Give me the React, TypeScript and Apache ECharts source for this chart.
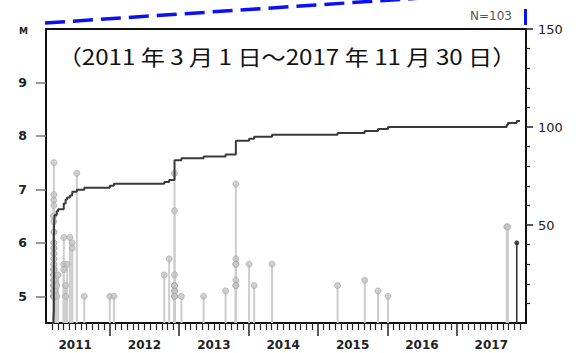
import React, { useEffect, useRef } from "react";
import * as echarts from "echarts";

// Observation period
const periodStart = "2011-03-01";
const periodEnd = "2017-11-30";

// Earthquakes grouped by day: quakeMags[i] holds the magnitudes recorded on quakeDays[i]
const quakeDays = [
  "2011-03-09", "2011-03-10", "2011-03-11", "2011-03-12", "2011-03-13", "2011-03-14",
  "2011-03-26", "2011-04-03", "2011-05-02", "2011-05-12", "2011-05-20", "2011-06-04",
  "2011-06-16", "2011-07-10", "2011-08-19",
  "2012-01-01", "2012-01-23", "2012-10-14", "2012-11-09", "2012-12-07",
  "2013-01-13", "2013-05-08", "2013-09-02", "2013-10-26",
  "2014-01-04", "2014-01-31", "2014-05-03",
  "2015-04-13", "2015-09-04", "2015-11-13", "2016-01-05",
  "2017-09-21", "2017-09-27",
];
const quakeMags = [
  [6.5, 5.2, 5.0],
  [6.8, 5.4],
  [7.5, 6.9, 6.7, 6.4, 6.2, 6.0, 6.0, 5.9, 5.9, 5.8, 5.8, 5.7, 5.7, 5.6, 5.6, 5.5, 5.5, 5.5, 5.4, 5.4,
    5.4, 5.3, 5.3, 5.3, 5.2, 5.2, 5.2, 5.2, 5.1, 5.1, 5.1, 5.1, 5.1, 5.0, 5.0, 5.0, 5.0, 5.0, 5.0, 5.0],
  [6.2, 5.3, 5.1, 5.0, 5.0],
  [5.5, 5.2, 5.0],
  [5.1, 5.0],
  [5.2, 5.0],
  [5.4],
  [6.1, 5.6, 5.5],
  [5.2, 5.0],
  [5.6],
  [6.1],
  [6.0, 5.9],
  [7.3],
  [5.0],
  [5.0],
  [5.0],
  [5.4],
  [5.7],
  [7.3, 6.6, 5.4, 5.2, 5.1, 5.0, 5.0, 5.1, 5.2, 5.0],
  [5.0],
  [5.0],
  [5.1],
  [7.1, 5.7, 5.6, 5.6, 5.3, 5.2, 5.2],
  [5.6],
  [5.2],
  [5.6],
  [5.2],
  [5.3],
  [5.1],
  [5.0],
  [6.3],
  [6.3],
];

// Most recent event, drawn in black
const latestDay = "2017-11-13";
const latestMag = 6.0;

// Axis labels
const yearLabels = ["2011", "2012", "2013", "2014", "2015", "2016", "2017"];
const magTicks = [5, 6, 7, 8, 9];
const countTicks = [50, 100, 150];
const countMinorTicks = [10, 20, 30, 40, 60, 70, 80, 90, 110, 120, 130, 140];
const titleText = "（2011 年 3 月 1 日～2017 年 11 月 30 日）";
const totalLabel = "N=103";

const X_MIN = 2011.08;
const X_MAX = 2018.0;
const M_MIN = 4.5;
const M_MAX = 10;

// Date string -> fractional year (month-based so month ticks are evenly spaced)
function toYear(d: string): number {
  const [y, m, day] = d.split("-").map(Number);
  const dim = new Date(Date.UTC(y, m, 0)).getUTCDate();
  return y + (m - 1) / 12 + (day - 1) / (dim * 12);
}

const labelFont = "DejaVu Sans";

export default function App() {
  const ref = useRef<HTMLDivElement>(null);

  useEffect(() => {
    if (!ref.current) return;
    const chart = echarts.init(ref.current, undefined, { renderer: "svg" });

    const quakes: [number, number][] = [];
    quakeDays.forEach((d, i) => {
      quakeMags[i].forEach((m) => quakes.push([toYear(d), m]));
    });
    const latest: [number, number][] = [[toYear(latestDay), latestMag]];

    // cumulative count of events
    const allX = quakes.map((q) => q[0]).concat(latest.map((q) => q[0])).sort((a, b) => a - b);
    const cumulative: [number, number][] = [[toYear(periodStart), 0]];
    allX.forEach((x, i) => cumulative.push([x, i + 1]));
    cumulative.push([toYear(periodEnd), allX.length]);

    const yearBounds = yearLabels.slice(1).map((y) => Number(y));
    const monthTicks: number[] = [];
    for (let y = 2011; y <= 2017; y++) {
      for (let m = 1; m < 12; m++) {
        const v = y + m / 12;
        if (v > X_MIN + 0.05 && v < X_MAX) monthTicks.push(v);
      }
    }

    const stemRender = (color: string, width: number) => (params: any, api: any) => {
      const top = api.coord([api.value(0), api.value(1)]);
      const base = api.coord([api.value(0), M_MIN]);
      return {
        type: "line",
        shape: { x1: top[0], y1: top[1], x2: base[0], y2: base[1] },
        style: { stroke: color, lineWidth: width },
      };
    };

    chart.setOption({
      animation: false,
      grid: {
        left: 46,
        top: 29,
        width: 480,
        height: 294,
        show: true,
        borderColor: "#111",
        borderWidth: 2,
        backgroundColor: "transparent",
      },
      xAxis: [
        {
          type: "value",
          min: X_MIN,
          max: X_MAX,
          position: "bottom",
          axisLine: { show: false },
          splitLine: { show: false },
          axisTick: {
            show: true,
            customValues: yearBounds,
            length: 13,
            lineStyle: { color: "#222", width: 1.5 },
          },
          axisLabel: {
            customValues: yearLabels.map((y) => Number(y) + 0.5),
            formatter: (v: number) => yearLabels[Math.floor(v) - 2011] ?? "",
            margin: 16,
            fontSize: 12,
            fontWeight: "bold",
            fontFamily: labelFont,
            color: "#222",
          },
        },
        {
          type: "value",
          min: X_MIN,
          max: X_MAX,
          position: "bottom",
          axisLine: { show: false },
          splitLine: { show: false },
          axisTick: {
            show: true,
            customValues: monthTicks,
            length: 7,
            lineStyle: { color: "#222", width: 1.2 },
          },
          axisLabel: { show: false },
        },
      ],
      yAxis: [
        {
          type: "value",
          min: M_MIN,
          max: M_MAX,
          position: "left",
          axisLine: { show: false },
          splitLine: { show: false },
          axisTick: {
            show: true,
            customValues: magTicks,
            length: 10,
            lineStyle: { color: "#777", width: 1.5 },
          },
          axisLabel: {
            customValues: magTicks,
            margin: 19,
            fontSize: 12.5,
            fontWeight: "bold",
            fontFamily: labelFont,
            color: "#222",
          },
        },
        {
          type: "value",
          min: 0,
          max: 150,
          position: "right",
          axisLine: { show: false },
          splitLine: { show: false },
          axisTick: {
            show: true,
            customValues: countTicks,
            length: 7,
            lineStyle: { color: "#222", width: 1.5 },
          },
          axisLabel: {
            customValues: countTicks,
            margin: 12,
            fontSize: 13,
            fontFamily: labelFont,
            color: "#222",
          },
        },
        {
          type: "value",
          min: 0,
          max: 150,
          position: "right",
          axisLine: { show: false },
          splitLine: { show: false },
          axisTick: {
            show: true,
            customValues: countMinorTicks,
            length: 4,
            lineStyle: { color: "#222", width: 1.2 },
          },
          axisLabel: { show: false },
        },
      ],
      series: [
        {
          type: "custom",
          xAxisIndex: 0,
          yAxisIndex: 0,
          silent: true,
          z: 2,
          data: quakes,
          renderItem: stemRender("#cdcdcd", 2),
        },
        {
          type: "scatter",
          xAxisIndex: 0,
          yAxisIndex: 0,
          silent: true,
          z: 3,
          symbol: "circle",
          symbolSize: 6,
          itemStyle: { color: "#c4c4c4", borderColor: "#a2a2a2", borderWidth: 0.8 },
          data: quakes,
        },
        {
          type: "custom",
          xAxisIndex: 0,
          yAxisIndex: 0,
          silent: true,
          z: 4,
          data: latest,
          renderItem: stemRender("#333", 1.6),
        },
        {
          type: "scatter",
          xAxisIndex: 0,
          yAxisIndex: 0,
          silent: true,
          z: 4,
          symbol: "circle",
          symbolSize: 5,
          itemStyle: { color: "#222" },
          data: latest,
        },
        {
          type: "line",
          xAxisIndex: 0,
          yAxisIndex: 1,
          step: "end",
          silent: true,
          z: 5,
          showSymbol: false,
          lineStyle: { color: "#3a3a3a", width: 2 },
          data: cumulative,
        },
      ],
      graphic: [
        {
          type: "line",
          silent: true,
          shape: { x1: 45, y1: 23, x2: 420, y2: -1.9 },
          style: { stroke: "#0b12f2", lineWidth: 3.5, lineDash: [20, 8] },
        },
        {
          type: "line",
          silent: true,
          shape: { x1: 525.5, y1: 25, x2: 525.5, y2: -6 },
          style: { stroke: "#0b12f2", lineWidth: 3, lineDash: [16, 14] },
        },
        {
          type: "text",
          silent: true,
          x: 512,
          y: 16,
          style: {
            text: totalLabel,
            fill: "#555",
            fontSize: 12,
            fontFamily: labelFont,
            align: "right",
            verticalAlign: "middle",
          },
        },
        {
          type: "text",
          silent: true,
          x: 23.5,
          y: 30.5,
          style: {
            text: "M",
            fill: "#222",
            fontSize: 9,
            fontWeight: "bold",
            fontFamily: labelFont,
            align: "center",
            verticalAlign: "middle",
          },
        },
        {
          type: "text",
          silent: true,
          x: 287,
          y: 56,
          scaleX: 1.15,
          style: {
            text: titleText,
            fill: "#111",
            fontSize: 21,
            fontFamily: "Noto Sans CJK JP",
            align: "center",
            verticalAlign: "middle",
          },
        },
      ],
    });

    return () => chart.dispose();
  }, []);

  return (
    <div
      ref={ref}
      style={{ position: "fixed", left: 0, top: 0, width: 579, height: 353, background: "#fff" }}
    />
  );
}
